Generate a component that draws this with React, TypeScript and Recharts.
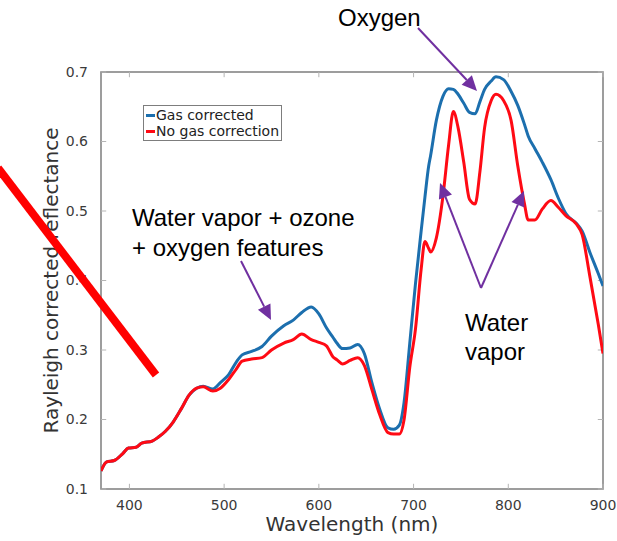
import React from 'react';
import { LineChart, Line, XAxis, YAxis, Legend, ReferenceArea, ReferenceLine } from 'recharts';

// Wavelength grid (nm) shared by both spectra
const wavelengths = [
  370, 376, 384, 393, 399, 407, 413, 424, 430, 438, 446, 455, 463, 471, 478, 488,
  496, 505, 513, 519, 529, 540, 550, 563, 573, 582, 592, 600, 608, 615, 619, 625,
  633, 641, 648, 656, 664, 673, 679, 685, 690, 696, 702, 708, 712, 716, 718, 724,
  731, 737, 742, 747, 753, 759, 765, 770, 775, 782, 787, 795, 803, 810, 817, 821,
  828, 836, 845, 853, 861, 872, 878, 886, 895, 900,
];

// Rayleigh corrected reflectance after gas absorption correction
const gasCorrected = [
  0.126, 0.139, 0.141, 0.151, 0.159, 0.160, 0.166, 0.169, 0.174, 0.183, 0.196, 0.216, 0.235, 0.245, 0.248, 0.244,
  0.253, 0.265, 0.283, 0.293, 0.298, 0.305, 0.320, 0.335, 0.343, 0.354, 0.362, 0.352, 0.332, 0.318, 0.310, 0.302,
  0.303, 0.308, 0.295, 0.253, 0.216, 0.188, 0.186, 0.192, 0.225, 0.310, 0.395, 0.471, 0.520, 0.565, 0.580, 0.630,
  0.665, 0.676, 0.675, 0.668, 0.655, 0.642, 0.640, 0.657, 0.675, 0.687, 0.693, 0.689, 0.672, 0.652, 0.625, 0.608,
  0.590, 0.570, 0.545, 0.518, 0.496, 0.482, 0.471, 0.441, 0.410, 0.392,
];

// Rayleigh corrected reflectance without gas correction
const noGasCorrection = [
  0.126, 0.139, 0.141, 0.151, 0.159, 0.160, 0.166, 0.169, 0.174, 0.183, 0.196, 0.216, 0.235, 0.245, 0.247, 0.241,
  0.245, 0.258, 0.273, 0.284, 0.287, 0.289, 0.300, 0.310, 0.315, 0.323, 0.315, 0.311, 0.306, 0.290, 0.286, 0.280,
  0.285, 0.289, 0.278, 0.243, 0.208, 0.181, 0.179, 0.179, 0.200, 0.275, 0.330, 0.416, 0.456, 0.446, 0.441, 0.461,
  0.521, 0.595, 0.643, 0.620, 0.570, 0.517, 0.510, 0.556, 0.620, 0.659, 0.668, 0.659, 0.630, 0.565, 0.511, 0.487,
  0.487, 0.503, 0.515, 0.505, 0.493, 0.481, 0.466, 0.407, 0.337, 0.295,
];

const xTicks = [400, 500, 600, 700, 800, 900];
const yTicks = [0.1, 0.2, 0.3, 0.4, 0.5, 0.6, 0.7];
const X_DOMAIN: [number, number] = [370, 900];
const Y_DOMAIN: [number, number] = [0.1, 0.7];

const data = wavelengths.map((wl, i) => ({
  wl,
  gas: gasCorrected[i],
  noGas: noGasCorrection[i],
}));

const BLUE = '#1c6fae';
const RED = '#ff0a14';
const PURPLE = '#7030a0';
const FRAME = '#7d7d7d';
const TICK = '#b5b5b5';
const AXIS_FONT = '"DejaVu Sans", sans-serif';
const NOTE_FONT = '"Liberation Sans", Arial, sans-serif';

// inward tick length expressed in axis units (about 5 px)
const X_TICK_LEN = 5.5;
const Y_TICK_LEN = 0.0075;

const legendItems = [
  { label: 'Gas corrected', color: BLUE },
  { label: 'No gas correction', color: RED },
];

function LegendBox() {
  return (
    <div
      style={{
        border: `1px solid ${FRAME}`,
        background: '#fff',
        padding: '1px 2px 1px 2px',
        fontFamily: AXIS_FONT,
        fontSize: 14,
        color: '#222',
        lineHeight: '16px',
        whiteSpace: 'nowrap',
      }}
    >
      {legendItems.map((it) => (
        <div key={it.label} style={{ display: 'flex', alignItems: 'center' }}>
          <span style={{ display: 'inline-block', width: 9, height: 3, background: it.color, marginRight: 1 }} />
          <span>{it.label}</span>
        </div>
      ))}
    </div>
  );
}

function Arrow({ x1, y1, x2, y2 }: { x1: number; y1: number; x2: number; y2: number }) {
  const ang = Math.atan2(y2 - y1, x2 - x1);
  const len = 15;
  const half = 7;
  const bx = x2 - len * Math.cos(ang);
  const by = y2 - len * Math.sin(ang);
  const px = -Math.sin(ang) * half;
  const py = Math.cos(ang) * half;
  return (
    <g>
      <line x1={x1} y1={y1} x2={bx} y2={by} stroke={PURPLE} strokeWidth={2} />
      <polygon points={`${x2},${y2} ${bx + px},${by + py} ${bx - px},${by - py}`} fill={PURPLE} />
    </g>
  );
}

export default function App() {
  return (
    <div style={{ position: 'absolute', left: 0, top: 0, width: 617, height: 541, background: '#fff' }}>
      <LineChart width={617} height={541} data={data} margin={{ top: 72, right: 14, bottom: 0, left: 0 }}>
        <XAxis
          dataKey="wl"
          type="number"
          domain={X_DOMAIN}
          ticks={xTicks}
          allowDataOverflow
          height={52}
          axisLine={false}
          tickLine={false}
          tickMargin={5}
          tick={{ fill: '#3a3a3a', fontSize: 14, fontFamily: AXIS_FONT }}
          label={{
            value: 'Wavelength (nm)',
            position: 'insideBottom',
            offset: 10,
            fill: '#333',
            fontSize: 20,
            fontFamily: AXIS_FONT,
          }}
        />
        <YAxis
          type="number"
          domain={Y_DOMAIN}
          ticks={yTicks}
          allowDataOverflow
          width={101}
          axisLine={false}
          tickLine={false}
          tickMargin={7}
          tickFormatter={(v: number) => v.toFixed(1)}
          tick={{ fill: '#3a3a3a', fontSize: 14, fontFamily: AXIS_FONT }}
          label={{
            value: 'Rayleigh corrected reflectance',
            angle: -90,
            position: 'insideLeft',
            offset: 51,
            style: { textAnchor: 'middle' },
            fill: '#333',
            fontSize: 20,
            fontFamily: AXIS_FONT,
          }}
        />

        {/* inward tick marks on all four sides */}
        {xTicks.map((t) => (
          <ReferenceLine
            key={`xb${t}`}
            segment={[{ x: t, y: Y_DOMAIN[0] }, { x: t, y: Y_DOMAIN[0] + Y_TICK_LEN }]}
            stroke={TICK}
            ifOverflow="visible"
          />
        ))}
        {xTicks.map((t) => (
          <ReferenceLine
            key={`xt${t}`}
            segment={[{ x: t, y: Y_DOMAIN[1] }, { x: t, y: Y_DOMAIN[1] - Y_TICK_LEN }]}
            stroke={TICK}
            ifOverflow="visible"
          />
        ))}
        {yTicks.map((t) => (
          <ReferenceLine
            key={`yl${t}`}
            segment={[{ x: X_DOMAIN[0], y: t }, { x: X_DOMAIN[0] + X_TICK_LEN, y: t }]}
            stroke={TICK}
            ifOverflow="visible"
          />
        ))}
        {yTicks.map((t) => (
          <ReferenceLine
            key={`yr${t}`}
            segment={[{ x: X_DOMAIN[1], y: t }, { x: X_DOMAIN[1] - X_TICK_LEN, y: t }]}
            stroke={TICK}
            ifOverflow="visible"
          />
        ))}

        {/* axes box */}
        <ReferenceArea
          x1={X_DOMAIN[0]}
          x2={X_DOMAIN[1]}
          y1={Y_DOMAIN[0]}
          y2={Y_DOMAIN[1]}
          fill="none"
          fillOpacity={0}
          stroke={FRAME}
          strokeWidth={1.5}
          ifOverflow="visible"
        />

        <Legend
          layout="vertical"
          verticalAlign="middle"
          align="center"
          wrapperStyle={{ left: 143, top: 105, width: 'auto', height: 'auto' }}
          content={() => <LegendBox />}
        />
        <Line
          type="monotone"
          dataKey="gas"
          name="Gas corrected"
          stroke={BLUE}
          strokeWidth={3}
          dot={false}
          isAnimationActive={false}
        />
        <Line
          type="monotone"
          dataKey="noGas"
          name="No gas correction"
          stroke={RED}
          strokeWidth={3}
          dot={false}
          isAnimationActive={false}
        />
      </LineChart>

      {/* Callouts drawn over the chart */}
      <svg width={617} height={541} style={{ position: 'absolute', left: 0, top: 0, pointerEvents: 'none' }}>
        <text x={338} y={26} fontFamily={NOTE_FONT} fontSize={24} fill="#000">Oxygen</text>
        <Arrow x1={418} y1={28} x2={477} y2={91} />

        <text x={132} y={226} fontFamily={NOTE_FONT} fontSize={24} fill="#000">Water vapor + ozone</text>
        <text x={132} y={256} fontFamily={NOTE_FONT} fontSize={24} fill="#000">+ oxygen features</text>
        <Arrow x1={241} y1={261} x2={271} y2={320} />

        <text x={465} y={331} fontFamily={NOTE_FONT} fontSize={24} fill="#000">Water</text>
        <text x={465} y={360} fontFamily={NOTE_FONT} fontSize={24} fill="#000">vapor</text>
        <Arrow x1={481} y1={288} x2={440} y2={183} />
        <Arrow x1={481} y1={288} x2={524} y2={191} />

        <line x1={-2} y1={168} x2={156} y2={375} stroke="#ff0000" strokeWidth={8} />
      </svg>
    </div>
  );
}
